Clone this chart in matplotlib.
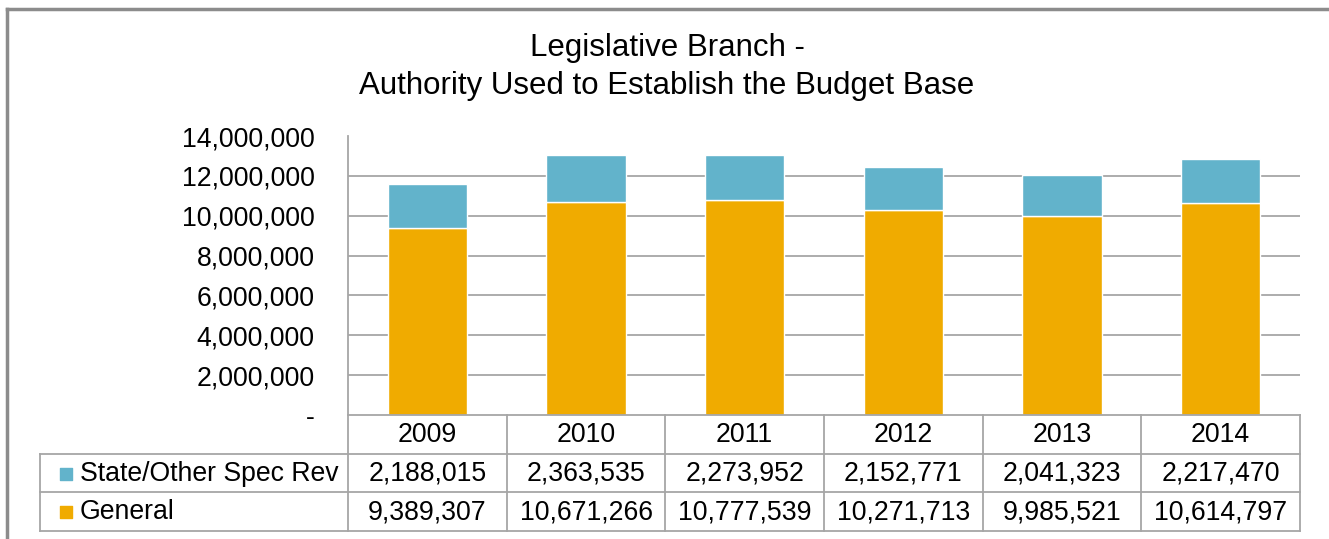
import matplotlib
matplotlib.use("Agg")
import matplotlib.pyplot as plt

plt.rcParams['font.family'] = ['Liberation Sans', 'DejaVu Sans']

years = ["2009", "2010", "2011", "2012", "2013", "2014"]
general = [9389307, 10671266, 10777539, 10271713, 9985521, 10614797]
state_other = [2188015, 2363535, 2273952, 2152771, 2041323, 2217470]
series_names = ["State/Other Spec Rev", "General"]
yticks = [0, 2000000, 4000000, 6000000, 8000000, 10000000, 12000000, 14000000]

W, H = 1329, 539
orange = "#F0AB00"
blue = "#62B3CB"
grid_c = "#A6A6A6"
fs = 19.2

fig = plt.figure(figsize=(W / 100, H / 100), dpi=100)

# chart area border (only top and left visible)
fig.add_artist(plt.Line2D([7 / W, 1], [1 - 9 / H, 1 - 9 / H], color="#8C8C8C", lw=2.5,
                          transform=fig.transFigure))
fig.add_artist(plt.Line2D([7 / W, 7 / W], [0, 1 - 9 / H], color="#8C8C8C", lw=2.5,
                          transform=fig.transFigure))

fig.text(667 / W, 1 - 48 / H, "Legislative Branch -", ha="center", va="center", fontsize=22.5)
fig.text(667 / W, 1 - 86 / H, "Authority Used to Establish the Budget Base",
         ha="center", va="center", fontsize=22.5)

# plot area
x0, x1, ytop, ybot = 348, 1300, 136, 415
ax = fig.add_axes([x0 / W, 1 - ybot / H, (x1 - x0) / W, (ybot - ytop) / H])
pos = list(range(len(years)))
ax.bar(pos, general, width=0.5, color=orange, edgecolor="white", linewidth=1, zorder=3)
ax.bar(pos, state_other, bottom=general, width=0.5, color=blue, edgecolor="white",
       linewidth=1, zorder=3)
ax.set_xlim(-0.5, len(years) - 0.5)
ax.set_ylim(0, 14000000)
ax.set_yticks(yticks)
ax.set_yticklabels(["-"] + [f"{v:,}" for v in yticks[1:]], fontsize=fs)
ax.tick_params(axis="y", length=0, pad=24)
ax.set_xticks([])
for v in yticks[1:-1]:
    ax.axhline(v, color=grid_c, lw=1.3, zorder=1)
for s in ["top", "right", "bottom"]:
    ax.spines[s].set_visible(False)
ax.spines["left"].set_color(grid_c)
ax.spines["left"].set_linewidth(1.3)

# data table under the bars
tl, tb = 40, 531
col_w = (x1 - x0) / len(years)
lab_w = (x0 - tl) / col_w
tax = fig.add_axes([tl / W, 1 - tb / H, (x1 - tl) / W, (tb - ybot) / H])
tax.set_xlim(-lab_w, len(years))
tax.set_ylim(3, 0)
tax.axis("off")
lc = "#A6A6A6"
tax.plot([0, len(years)], [0, 0], color=lc, lw=1.3, clip_on=False)
for r in [1, 2, 3]:
    tax.plot([-lab_w, len(years)], [r, r], color=lc, lw=1.3, clip_on=False)
tax.plot([-lab_w, -lab_w], [1, 3], color=lc, lw=1.3, clip_on=False)
for c in range(len(years) + 1):
    tax.plot([c, c], [0, 3], color=lc, lw=1.3, clip_on=False)

for i, y in enumerate(years):
    tax.text(i + 0.5, 0.52, y, ha="center", va="center", fontsize=fs)
    tax.text(i + 0.5, 1.52, f"{state_other[i]:,}", ha="center", va="center", fontsize=fs)
    tax.text(i + 0.5, 2.52, f"{general[i]:,}", ha="center", va="center", fontsize=fs)

for r, (name, col) in enumerate(zip(series_names, [blue, orange])):
    tax.scatter([-lab_w + 0.165], [r + 1.52], marker="s", s=70, color=col, clip_on=False)
    tax.text(-lab_w + 0.25, r + 1.52, name, ha="left", va="center", fontsize=fs)

fig.savefig("out.png", dpi=100)
